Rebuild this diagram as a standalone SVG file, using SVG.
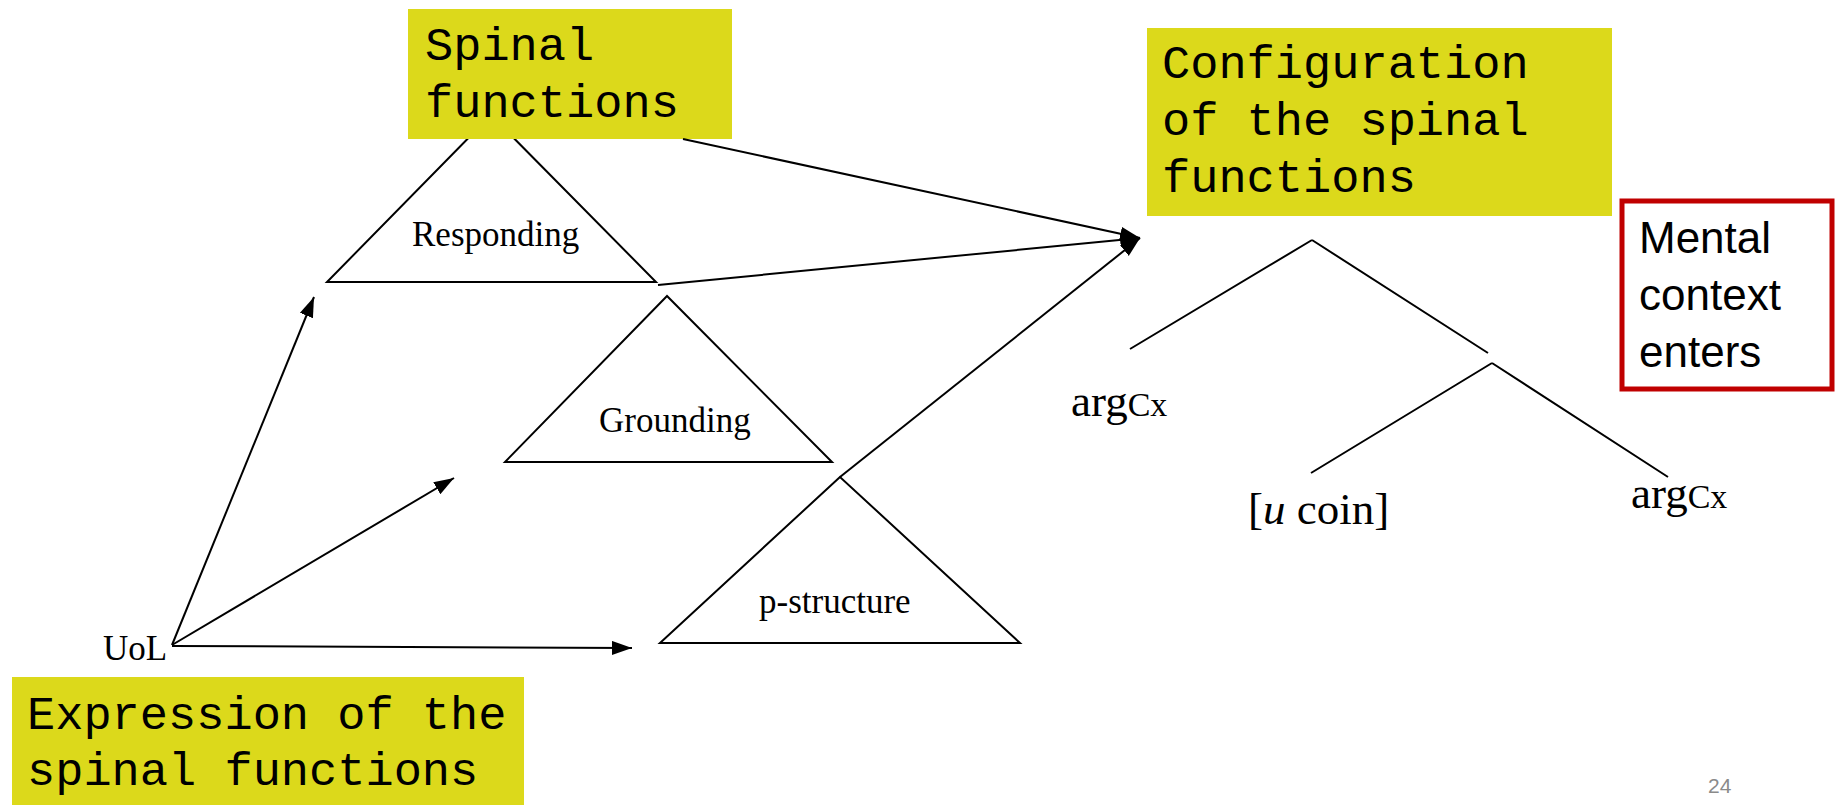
<svg xmlns="http://www.w3.org/2000/svg" width="1837" height="805" viewBox="0 0 1837 805">
  <style>
    .bg { fill: #ffffff; }
    .note { fill: #dcd91b; }
    .mono { font-family: "Liberation Mono", "Courier New", monospace; font-size: 47px; fill: #000; }
    .serif { font-family: "Liberation Serif", "Times New Roman", serif; fill: #000; }
    .tri { fill: none; stroke: #000; stroke-width: 2; stroke-linejoin: miter; }
    .edge { fill: none; stroke: #000; stroke-width: 2; }
    .arrow { fill: none; stroke: #000; stroke-width: 2; marker-end: url(#head); }
    .sans { font-family: "Liberation Sans", Arial, sans-serif; fill: #000; }
  </style>
  <defs>
    <marker id="head" markerUnits="userSpaceOnUse" markerWidth="22" markerHeight="16" refX="20" refY="7" orient="auto">
      <path d="M0,0 L20,7 L0,14 z" fill="#000"/>
    </marker>
  </defs>

  <rect class="bg" x="0" y="0" width="1837" height="805"/>

  <!-- responding subtree (apex tucked under the note box) -->
  <g id="responding">
    <polygon class="tri" points="491,115 327,282 656,282"/>
    <text class="serif" x="412" y="246" font-size="35">Responding</text>
  </g>

  <g id="spinal-functions">
    <rect class="note" x="408" y="9" width="324" height="130"/>
    <text class="mono" x="425" y="60">Spinal</text>
    <text class="mono" x="425" y="117">functions</text>
  </g>

  <g id="grounding">
    <polygon class="tri" points="667,296 505,462 832,462"/>
    <text class="serif" x="599" y="432" font-size="35">Grounding</text>
  </g>

  <g id="p-structure">
    <polygon class="tri" points="840,477 660,643 1020,643"/>
    <text class="serif" x="759" y="613" font-size="35">p-structure</text>
  </g>

  <g id="uol">
    <text class="serif" x="103" y="660" font-size="35">UoL</text>
  </g>

  <g id="expression">
    <rect class="note" x="12" y="677" width="512" height="128"/>
    <text class="mono" x="27" y="729">Expression of the</text>
    <text class="mono" x="27" y="785">spinal functions</text>
  </g>

  <g id="configuration">
    <rect class="note" x="1147" y="28" width="465" height="188"/>
    <text class="mono" x="1162" y="78">Configuration</text>
    <text class="mono" x="1162" y="135">of the spinal</text>
    <text class="mono" x="1162" y="192">functions</text>
  </g>

  <g id="mental-context">
    <rect x="1622" y="201" width="210" height="188" fill="#fff" stroke="#c00000" stroke-width="5"/>
    <text class="sans" x="1639" y="253" font-size="44">Mental</text>
    <text class="sans" x="1639" y="310" font-size="44">context</text>
    <text class="sans" x="1639" y="367" font-size="44">enters</text>
  </g>

  <!-- configuration tree -->
  <g id="config-tree">
    <path class="edge" d="M1312,240 L1130,349 M1312,240 L1488,353 M1492,363 L1311,473 M1492,363 L1668,477"/>
    <text class="serif" x="1071" y="416"><tspan font-size="45">arg</tspan><tspan font-size="34">Cx</tspan></text>
    <text class="serif" x="1248" y="524" font-size="45">[<tspan font-style="italic">u</tspan> coin]</text>
    <text class="serif" x="1631" y="508"><tspan font-size="45">arg</tspan><tspan font-size="34">Cx</tspan></text>
  </g>

  <g id="connectors">
    <line class="arrow" x1="172" y1="645" x2="314" y2="297"/>
    <line class="arrow" x1="172" y1="645" x2="454" y2="478"/>
    <line class="arrow" x1="172" y1="646" x2="632" y2="648"/>
    <line class="arrow" x1="683" y1="139" x2="1140" y2="238"/>
    <line class="arrow" x1="658" y1="285" x2="1140" y2="238"/>
    <line class="arrow" x1="840" y1="477" x2="1140" y2="238"/>
  </g>

  <g id="page-number">
    <text class="sans" x="1708" y="793" font-size="21" style="fill:#8a8a8a">24</text>
  </g>
</svg>
